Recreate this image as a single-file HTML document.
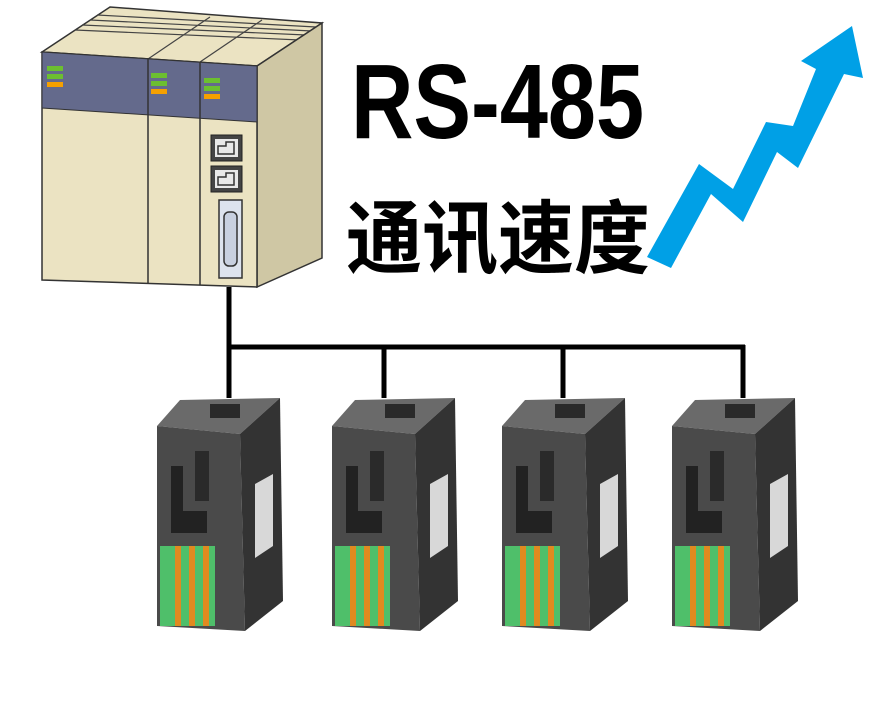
<!DOCTYPE html>
<html><head><meta charset="utf-8"><style>
html,body{margin:0;padding:0;background:#fff;}
svg{display:block}
</style></head><body>
<svg width="895" height="714" viewBox="0 0 895 714" xmlns="http://www.w3.org/2000/svg">
<!-- PLC -->
<polygon points="42,52 110,7 322,23 257,66" fill="#ebe3c2" stroke="#333" stroke-width="1.5"/>
<g stroke="#444" stroke-width="1.2">
<line x1="75" y1="30" x2="300" y2="40"/><line x1="82" y1="25" x2="306" y2="35"/><line x1="90" y1="20" x2="312" y2="31"/><line x1="97" y1="15" x2="316" y2="27"/>
<line x1="148" y1="59" x2="210" y2="17"/><line x1="200" y1="62" x2="262" y2="20"/>
</g>
<polygon points="257,66 322,23 322,258 257,287" fill="#cfc7a4" stroke="#333" stroke-width="1.5"/>
<polygon points="42,52 257,66 257,287 42,280" fill="#ebe3c2" stroke="#333" stroke-width="1.5"/>
<polygon points="42,52 257,66 257,122 42,108" fill="#646a8c" stroke="#333" stroke-width="1"/>
<line x1="148" y1="59" x2="148" y2="283" stroke="#333" stroke-width="1.5"/>
<line x1="200" y1="62" x2="200" y2="285" stroke="#333" stroke-width="1.5"/>
<g>
<rect x="47" y="66" width="16" height="5" fill="#6cbf30"/><rect x="47" y="74" width="16" height="5" fill="#6cbf30"/><rect x="47" y="82" width="16" height="5" fill="#f5a000"/>
<rect x="151" y="73" width="16" height="5" fill="#6cbf30"/><rect x="151" y="81" width="16" height="5" fill="#6cbf30"/><rect x="151" y="89" width="16" height="5" fill="#f5a000"/>
<rect x="204" y="78" width="16" height="5" fill="#6cbf30"/><rect x="204" y="86" width="16" height="5" fill="#6cbf30"/><rect x="204" y="94" width="16" height="5" fill="#f5a000"/>
</g>
<rect x="211" y="135" width="31" height="26" fill="#444" stroke="#222"/>
<rect x="215" y="139" width="23" height="18" fill="#e8e8e8"/>
<path d="M218,146 h8 v-4 h8 v12 h-16z" fill="none" stroke="#333" stroke-width="1.5"/>
<rect x="211" y="166" width="31" height="26" fill="#444" stroke="#222"/>
<rect x="215" y="170" width="23" height="18" fill="#e8e8e8"/>
<path d="M218,177 h8 v-4 h8 v12 h-16z" fill="none" stroke="#333" stroke-width="1.5"/>
<rect x="219" y="200" width="23" height="78" fill="#dde3ee" stroke="#333" stroke-width="1.5"/>
<rect x="224" y="212" width="13" height="54" rx="5" fill="#c8d0e0" stroke="#333" stroke-width="1.5"/>
<!-- wiring -->
<g stroke="#000" stroke-width="5" fill="none">
<line x1="229" y1="287" x2="229" y2="398"/>
<line x1="227" y1="347" x2="745" y2="347"/>
<line x1="384" y1="345" x2="384" y2="398"/>
<line x1="563" y1="345" x2="563" y2="398"/>
<line x1="743" y1="345" x2="743" y2="398"/>
</g>
<!-- devices -->
<defs>
<g id="dev">
<polygon points="2,30 25,4 125,2 85,38" fill="#6a6a6a"/>
<polygon points="85,38 125,2 128,205 90,235" fill="#333"/>
<polygon points="2,30 85,38 90,235 2,230" fill="#4a4a4a"/>
<rect x="55" y="8" width="30" height="14" fill="#2a2a2a"/>
<polygon points="100,88 118,78 118,150 100,162" fill="#d8d8d8"/>
<rect x="16" y="70" width="12" height="45" fill="#222"/>
<rect x="40" y="55" width="14" height="50" fill="#2a2a2a"/>
<rect x="16" y="115" width="36" height="22" fill="#222"/>
<rect x="5" y="150" width="55" height="80" fill="#4fbf6a"/>
<rect x="20" y="150" width="6" height="80" fill="#e08a20"/>
<rect x="34" y="150" width="6" height="80" fill="#e08a20"/>
<rect x="48" y="150" width="6" height="80" fill="#e08a20"/>
</g>
</defs>
<use href="#dev" x="155" y="396"/>
<use href="#dev" x="330" y="396"/>
<use href="#dev" x="500" y="396"/>
<use href="#dev" x="670" y="396"/>
<!-- text -->
<text x="351" y="138" font-family="Liberation Sans, sans-serif" font-weight="bold" font-size="106" textLength="293" lengthAdjust="spacingAndGlyphs">RS-485</text>
<text x="346" y="267" font-family="Liberation Sans, Noto Sans CJK SC, sans-serif" font-weight="bold" font-size="80" textLength="304" lengthAdjust="spacingAndGlyphs">通讯速度</text>
<!-- arrow -->
<polygon points="647,257 699,164 733,189 766,122 793,126 816,69 801,61 852,26 863,78 844,74 798,168 777,152 743,222 711,194 671,268" fill="#00a0e6"/>
</svg>
</body></html>
